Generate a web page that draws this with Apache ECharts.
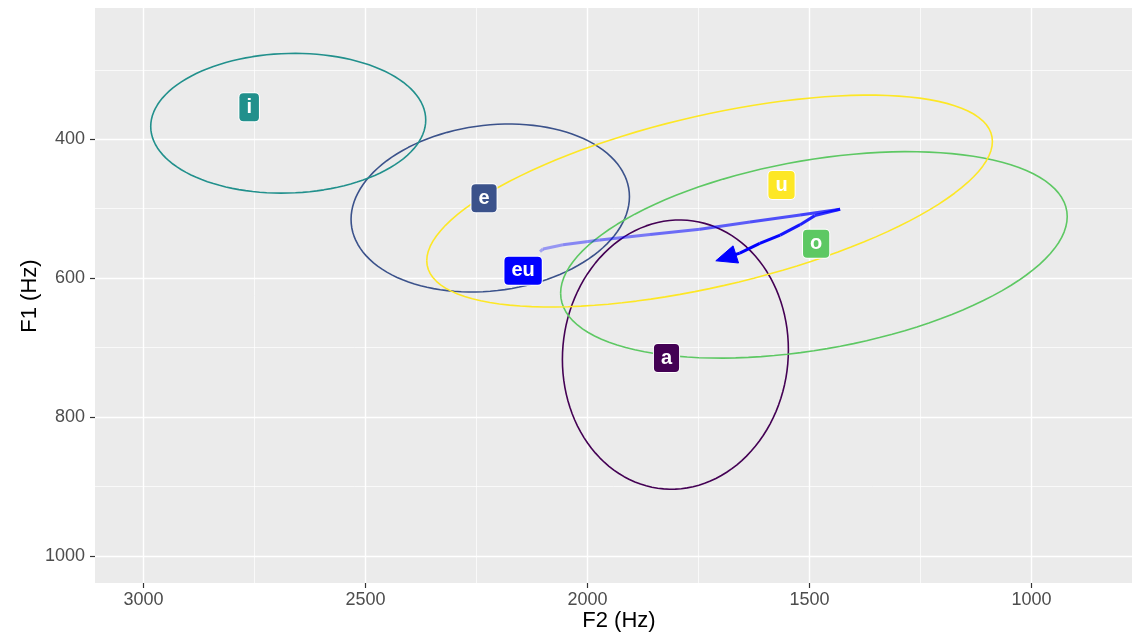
<!DOCTYPE html>
<html><head><meta charset="utf-8">
<script src="https://cdn.jsdelivr.net/npm/echarts@6/dist/echarts.min.js"></script>
<style>html,body{margin:0;padding:0;background:#fff}#c{width:1132px;height:637px}</style>
</head><body><div id="c"></div>
<script>
// Axis ticks
const xMajorTicks = [1000, 1500, 2000, 2500, 3000];
const xMinorTicks = [1250, 1750, 2250, 2750];
const yMajorTicks = [400, 600, 800, 1000];
const yMinorTicks = [300, 500, 700, 900];

// Vowel ellipses (F2 centre, F1 centre, F2 half-extent, F1 half-extent, F1 offset at high-F2 end)
const ellipseVowels = ['a', 'e', 'i', 'o', 'u'];
const ellipseF2 = [1802, 2219, 2674, 1490, 1725];
const ellipseF1 = [710, 499, 377, 566.5, 489];
const ellipseRF2 = [254.5, 313.5, 309.7, 570.5, 637];
const ellipseRF1 = [193.8, 120.9, 100.6, 148.6, 152.5];
const ellipseSkewF1 = [7, 16.3, 4.7, 55.1, 85.8];
const ellipseColors = ['#440154', '#3B528B', '#21908C', '#5DC863', '#FDE725'];

// Labels
const labelText = ['i', 'e', 'eu', 'u', 'o', 'a'];
const labelF2 = [2762, 2233, 2145, 1563, 1485, 1822];
const labelF1 = [354, 485, 589.5, 466, 550.6, 715];
const labelColors = ['#21908C', '#3B528B', '#0000FF', '#FDE725', '#5DC863', '#440154'];

// Diphthong "eu" trajectory
const trajF2 = [2107, 2100, 2055, 1972, 1859, 1747, 1634, 1521, 1431, 1488, 1521, 1566, 1612, 1657, 1711];
const trajF1 = [561.7, 558, 552, 545, 537, 529.5, 519, 509, 500.7, 510, 523, 538, 550, 564, 575];

const FONT = '"Liberation Sans", Arial, Helvetica, sans-serif';
const X_MIN = 773.6, X_MAX = 3109.2, Y_MIN = 211.1, Y_MAX = 1038.8;

function ellipsePoints(k) {
  const pts = [];
  const n = 120;
  const ry = ellipseRF1[k], ay = ellipseSkewF1[k];
  const by = Math.sqrt(ry * ry - ay * ay);
  for (let j = 0; j <= n; j++) {
    const t = 2 * Math.PI * j / n;
    pts.push([ellipseF2[k] + ellipseRF2[k] * Math.cos(t), ellipseF1[k] + ay * Math.cos(t) + by * Math.sin(t)]);
  }
  return pts;
}

const series = [];
ellipseVowels.forEach((v, k) => {
  series.push({
    type: 'line', name: v, data: ellipsePoints(k), showSymbol: false, symbol: 'none',
    lineStyle: { color: ellipseColors[k], width: 1.6 }, silent: true, z: 2
  });
});

const nT = trajF2.length;
series.push({
  type: 'custom', name: 'eu-traj', z: 3, silent: true,
  data: trajF2.map((v, i) => [v, trajF1[i]]),
  renderItem: function (params, api) {
    const i = params.dataIndex;
    if (i === 0) return { type: 'group', children: [] };
    const p0 = api.coord([trajF2[i - 1], trajF1[i - 1]]);
    let p1 = api.coord([api.value(0), api.value(1)]);
    const alpha = Math.min(1, 0.3 + 0.8 * (i - 1) / (nT - 2));
    const children = [];
    if (i === nT - 1) {
      const dx = p1[0] - p0[0], dy = p1[1] - p0[1];
      const len = Math.sqrt(dx * dx + dy * dy);
      const ux = dx / len, uy = dy / len;
      const L = 21, W = 9;
      const bx = p1[0] - ux * L, by = p1[1] - uy * L;
      children.push({
        type: 'polygon',
        shape: { points: [[p1[0], p1[1]], [bx - uy * W, by + ux * W], [bx + uy * W, by - ux * W]] },
        style: { fill: '#0000FF', stroke: '#0000FF', lineWidth: 1, opacity: alpha }
      });
      p1 = [bx + ux * 2, by + uy * 2];
    }
    children.unshift({
      type: 'line',
      shape: { x1: p0[0], y1: p0[1], x2: p1[0], y2: p1[1] },
      style: { stroke: '#0000FF', lineWidth: 3, opacity: alpha, lineCap: 'butt' }
    });
    return { type: 'group', children: children };
  }
});

series.push({
  type: 'custom', name: 'labels', z: 5, silent: true,
  data: labelF2.map((v, i) => [v, labelF1[i]]),
  renderItem: function (params, api) {
    const i = params.dataIndex;
    const p = api.coord([api.value(0), api.value(1)]);
    return {
      type: 'text', x: p[0], y: p[1],
      style: {
        text: labelText[i], fill: '#FFFFFF', font: 'bold 20px ' + FONT,
        align: 'center', verticalAlign: 'middle',
        backgroundColor: labelColors[i], padding: [4, 7, 4, 7], borderRadius: 4,
        borderColor: '#FFFFFF', borderWidth: 1
      }
    };
  }
});

const plain = v => String(v);
const chart = echarts.init(document.getElementById('c'), null, { renderer: 'canvas' });
chart.setOption({
  animation: false,
  backgroundColor: '#FFFFFF',
  grid: { left: 95, right: 0, top: 8, bottom: 54, show: true, backgroundColor: '#EBEBEB', borderWidth: 0 },
  xAxis: [
    {
      type: 'value', inverse: true, min: X_MIN, max: X_MAX, position: 'bottom',
      axisLine: { show: false },
      axisTick: { show: true, length: 5, lineStyle: { color: '#333333', width: 1.2 }, customValues: xMajorTicks },
      axisLabel: { show: true, customValues: xMajorTicks, formatter: plain, color: '#4D4D4D', fontSize: 18, margin: 8, fontFamily: FONT },
      splitLine: { show: true, lineStyle: { color: '#FFFFFF', width: 1.4 } }
    },
    {
      type: 'value', inverse: true, min: X_MIN, max: X_MAX, position: 'top',
      axisLine: { show: false },
      axisTick: { show: false, customValues: xMinorTicks },
      axisLabel: { show: false, customValues: xMinorTicks },
      splitLine: { show: true, lineStyle: { color: '#FFFFFF', width: 0.7 } }
    }
  ],
  yAxis: [
    {
      type: 'value', inverse: true, min: Y_MIN, max: Y_MAX, position: 'left',
      axisLine: { show: false },
      axisTick: { show: true, length: 5, lineStyle: { color: '#333333', width: 1.2 }, customValues: yMajorTicks },
      axisLabel: { show: true, customValues: yMajorTicks, formatter: plain, color: '#4D4D4D', fontSize: 18, margin: 10, fontFamily: FONT },
      splitLine: { show: true, lineStyle: { color: '#FFFFFF', width: 1.4 } }
    },
    {
      type: 'value', inverse: true, min: Y_MIN, max: Y_MAX, position: 'right',
      axisLine: { show: false },
      axisTick: { show: false, customValues: yMinorTicks },
      axisLabel: { show: false, customValues: yMinorTicks },
      splitLine: { show: true, lineStyle: { color: '#FFFFFF', width: 0.7 } }
    }
  ],
  graphic: [
    { type: 'text', x: 619, y: 621, style: { text: 'F2 (Hz)', font: '22px ' + FONT, fill: '#000000', align: 'center', verticalAlign: 'middle' } },
    { type: 'text', x: 30, y: 296, rotation: Math.PI / 2, style: { text: 'F1 (Hz)', font: '22px ' + FONT, fill: '#000000', align: 'center', verticalAlign: 'middle' } }
  ],
  series: series
});
</script>
</body></html>
